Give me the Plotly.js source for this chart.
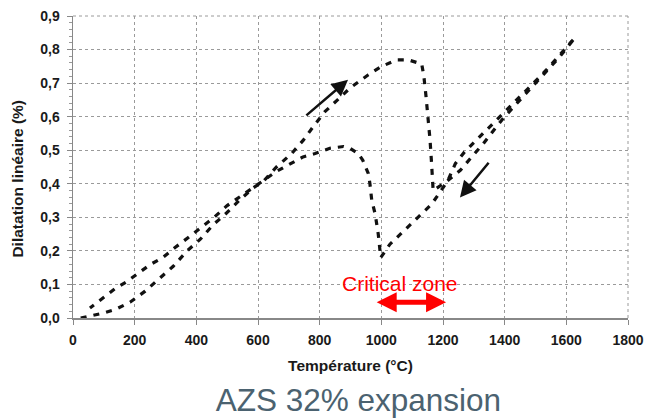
<!DOCTYPE html>
<html><head><meta charset="utf-8">
<script src="https://cdn.plot.ly/plotly-3.0.1.min.js"></script>
<style>html,body{margin:0;padding:0;background:#fff}#chart{width:648px;height:419px}</style>
</head><body><div id="chart"></div>
<script>
// Heating curve (°C, %)
const heatingT = [25, 60, 100, 136, 185, 234, 271, 325, 369, 412, 455, 498, 542, 585, 620, 660, 709, 747, 779, 817, 858, 898, 958, 1001, 1050, 1088, 1131, 1138, 1145, 1152, 1158, 1163, 1168, 1212, 1256, 1293, 1331, 1374, 1400, 1450, 1499, 1536, 1580, 1622];
const heatingD = [0.0, 0.007, 0.015, 0.025, 0.047, 0.08, 0.11, 0.154, 0.199, 0.234, 0.278, 0.313, 0.353, 0.388, 0.41, 0.45, 0.49, 0.53, 0.57, 0.615, 0.65, 0.685, 0.725, 0.75, 0.769, 0.769, 0.757, 0.72, 0.66, 0.60, 0.53, 0.46, 0.38, 0.407, 0.44, 0.48, 0.52, 0.571, 0.60, 0.65, 0.70, 0.735, 0.78, 0.829];
// Cooling curve (°C, %)
const coolingT = [1622, 1580, 1536, 1499, 1450, 1400, 1350, 1310, 1270, 1240, 1216, 1164, 1119, 1060, 1028, 998, 990, 980, 969, 963, 958, 940, 925, 900, 877, 833, 785, 746, 704, 660, 618, 560, 500, 460, 417, 374, 331, 291, 250, 207, 172, 136, 104, 75, 55];
const coolingD = [0.829, 0.785, 0.74, 0.705, 0.66, 0.615, 0.57, 0.53, 0.495, 0.46, 0.41, 0.34, 0.30, 0.25, 0.22, 0.18, 0.25, 0.31, 0.35, 0.40, 0.43, 0.47, 0.49, 0.505, 0.511, 0.506, 0.49, 0.48, 0.46, 0.437, 0.41, 0.372, 0.335, 0.302, 0.27, 0.24, 0.21, 0.18, 0.159, 0.129, 0.107, 0.087, 0.065, 0.045, 0.03];

const xTickVals = [0, 200, 400, 600, 800, 1000, 1200, 1400, 1600, 1800];
const xTickText = ['0', '200', '400', '600', '800', '1000', '1200', '1400', '1600', '1800'];
const yTickVals = [0, 0.1, 0.2, 0.3, 0.4, 0.5, 0.6, 0.7, 0.8, 0.9];
const yTickText = ['0,0', '0,1', '0,2', '0,3', '0,4', '0,5', '0,6', '0,7', '0,8', '0,9'];

const chartTitle = 'AZS 32% expansion';
const xTitle = 'Température (°C)';
const yTitle = 'Dilatation linéaire (%)';
const zoneLabel = 'Critical zone';
const zoneStart = 980, zoneEnd = 1210, zoneY = 0.047, zoneLabelX = 1062, zoneLabelY = 0.103;
// Direction arrows: [tailT, tailD, headT, headD]
const heatArrow = [752, 0.60, 892, 0.71];
const coolArrow = [1352, 0.467, 1255, 0.359];

const lineStyle = {color: '#111', width: 3.2, dash: '6px,7px'};
const traces = [
  {x: heatingT, y: heatingD, type: 'scatter', mode: 'lines', line: lineStyle, name: 'Heating', hoverinfo: 'x+y'},
  {x: coolingT, y: coolingD, type: 'scatter', mode: 'lines', line: lineStyle, name: 'Cooling', hoverinfo: 'x+y'}
];

const fam = 'Liberation Sans, Arial, sans-serif';
const tickFont = {family: fam, size: 14, color: '#1a1a1a', weight: 'bold'};
const gridLine = {color: '#9a9a9a', width: 1, dash: 'dot'};
const layout = {
  width: 648, height: 419,
  margin: {l: 73, r: 20, t: 16, b: 101},
  paper_bgcolor: '#fff', plot_bgcolor: '#fff',
  showlegend: false,
  title: {text: chartTitle, font: {family: fam, size: 31.5, color: '#4b6270'},
          xref: 'container', yref: 'container', x: 0.553, y: 0.045, xanchor: 'center', yanchor: 'middle'},
  xaxis: {
    range: [0, 1800], tickvals: xTickVals, ticktext: xTickText,
    ticks: 'outside', ticklen: 5, tickcolor: '#888', tickwidth: 1,
    showline: true, linecolor: '#888', linewidth: 1.5,
    showgrid: true, gridcolor: '#9a9a9a', griddash: 'dot', gridwidth: 1,
    zeroline: false, tickfont: tickFont, ticklabelstandoff: 4,
    title: {text: xTitle, font: {family: fam, size: 15.5, color: '#1a1a1a', weight: 'bold'}, standoff: 13}
  },
  yaxis: {
    range: [0, 0.9], tickvals: yTickVals, ticktext: yTickText,
    ticks: 'outside', ticklen: 5, tickcolor: '#888', tickwidth: 1,
    minor: {dtick: 0.02, ticks: 'outside', ticklen: 3, tickcolor: '#999', showgrid: false},
    showline: true, linecolor: '#888', linewidth: 1.5,
    showgrid: true, gridcolor: '#9a9a9a', griddash: 'dot', gridwidth: 1,
    zeroline: false, tickfont: tickFont, ticklabelstandoff: 4
  },
  shapes: [
    {type: 'line', xref: 'paper', yref: 'paper', x0: 0, x1: 1, y0: 1, y1: 1, line: gridLine, layer: 'below'},
    {type: 'line', xref: 'paper', yref: 'paper', x0: 1, x1: 1, y0: 0, y1: 1, line: gridLine, layer: 'below'}
  ],
  annotations: [
    {x: -0.1, y: 0.46, xref: 'paper', yref: 'paper', xanchor: 'center', yanchor: 'middle', textangle: -90,
     text: yTitle, showarrow: false, font: {family: fam, size: 15.5, color: '#1a1a1a', weight: 'bold'}},
    {x: heatArrow[2], y: heatArrow[3], ax: heatArrow[0], ay: heatArrow[1], xref: 'x', yref: 'y', axref: 'x', ayref: 'y',
     text: '', showarrow: true, arrowhead: 2, arrowsize: 1.3, arrowwidth: 2.5, arrowcolor: '#111'},
    {x: coolArrow[2], y: coolArrow[3], ax: coolArrow[0], ay: coolArrow[1], xref: 'x', yref: 'y', axref: 'x', ayref: 'y',
     text: '', showarrow: true, arrowhead: 2, arrowsize: 1.3, arrowwidth: 2.5, arrowcolor: '#111'},
    {x: zoneEnd, y: zoneY, ax: zoneStart, ay: zoneY, xref: 'x', yref: 'y', axref: 'x', ayref: 'y',
     text: '', showarrow: true, arrowhead: 2, arrowside: 'end+start', arrowsize: 0.8, arrowwidth: 5, arrowcolor: '#ff0000'},
    {x: zoneLabelX, y: zoneLabelY, xref: 'x', yref: 'y', text: zoneLabel, showarrow: false,
     font: {family: fam, size: 21, color: '#ff0000'}}
  ]
};

Plotly.newPlot('chart', traces, layout, {displayModeBar: false, staticPlot: true});
</script>
</body></html>
